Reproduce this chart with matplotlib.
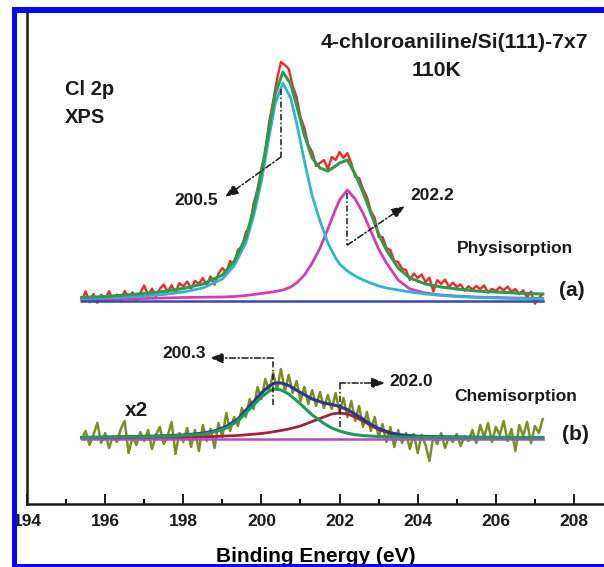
import numpy as np
import matplotlib
matplotlib.use("Agg")
import matplotlib.pyplot as plt
from matplotlib.patches import Rectangle
from matplotlib.ticker import MultipleLocator

plt.rcParams.update({
    "font.family": "Liberation Sans",
    "font.weight": "bold",
    "text.color": "#1a1a1a",
})

# ── (a) Physisorption: raw Cl 2p scan (intensity above baseline, a.u.) ──
scan_a = [
    -0.5, 9.7, -1.2, 7, -1.8, 6.3, 1.5, 9.8, 1.1, 6.4,
    -0.3, 10, 3.3, 8.6, -0.1, 8.2, 15.5, 5.9, 12.3, 4.7,
    12.1, 16.5, 9.1, 15.7, 8.3, 17.9, 14.5, 19.4, 12.3, 20.2,
    17.1, 23, 15.8, 24.6, 16.4, 27.2, 33, 28.5, 40, 36.5,
    51.5, 53.5, 68.5, 74.5, 97.5, 111.5, 132.5, 148.5, 179.5, 199.5,
    222, 239, 236, 232, 215, 204, 184, 173, 156, 149,
    135, 138, 141, 132, 144, 141, 149, 143, 148, 138,
    124, 123, 112, 104, 90, 83, 64, 64, 53, 51,
    40, 39, 32, 31, 21, 27.5, 23, 26.5, 19, 23.3,
    9.5, 20.8, 17, 21.5, 14, 18.5, 14, 16.6, 10.2, 14.8,
    11.4, 15, 11.8, 15.6, 8.4, 12.2, 10, 13.8, 10.6, 14.4,
    9.2, 12, 6.9, 10.7, 3.6, 9.4, -2.7, 3.1, 7,
]
scan_range = (195.4, 207.2)

# fitted components for (a)
fit_e_a = [195.4, 196.0, 196.5, 197.0, 197.5, 198.0, 198.5, 199.0, 199.3, 199.6,
           199.8, 200.0, 200.2, 200.35, 200.55, 200.75, 200.9, 201.1, 201.3, 201.5,
           201.7, 201.9, 202.0, 202.2, 202.4, 202.6, 202.8, 203.0, 203.2, 203.5,
           203.8, 204.2, 204.6, 205.0, 205.5, 206.0, 206.5, 207.2]
comp1_a = [2.5, 3, 4, 5, 6.5, 9, 13, 22, 35, 58,
           85, 120, 165, 197, 218, 203, 178, 140, 105, 80,
           58, 43, 37, 30, 25, 21, 18, 15, 13, 11,
           9, 7, 5.5, 4.5, 3.5, 3, 2.5, 2]
comp2_a = [1, 1.5, 2, 2.5, 3, 3.5, 3.8, 4, 4.5, 5.5,
           6.5, 7.5, 8.5, 9.5, 11, 14, 18, 26, 38, 53,
           72, 92, 101, 111, 102, 88, 70, 52, 38, 21,
           12, 8, 6, 5, 4, 3.5, 3, 2.5]
envelope_a = [3.5, 4.5, 6, 7.5, 9.5, 12.5, 17, 26, 39.5, 63.5,
              91.5, 127.5, 173.5, 206.5, 229, 217, 196, 166, 143, 133,
              130, 135, 138, 141, 127, 109, 88, 67, 51, 33,
              23, 17, 14, 12, 10, 9, 8, 7]
peaks_a = [200.5, 202.2]

# ── (b) Chemisorption (x2) ──
scan_b = [
    0, 8, -6, 4, 16, -4, 6, -9, 3, -3,
    10, 18, -14, 2, -6, 7, -2, 9, -10, 4,
    12, -5, 3, 17, -15, 6, -3, 11, -8, 9,
    -12, 14, -2, 10, -9, 16, 2, 26, 8, 22,
    13, 31, 22, 40, 30, 52, 40, 60, 48, 66,
    50, 70, 48, 64, 46, 58, 38, 52, 35, 49,
    33, 47, 31, 44, 30, 46, 27, 41, 22, 38,
    18, 33, 12, 27, 8, 22, 2, 15, -3, 12,
    -8, 9, -4, 6, -10, 5, -14, 4, -6, -22,
    3, -5, 6, -9, 2, -3, 5, -7, 3, -2,
    9, -4, 14, 2, 16, -3, 12, 4, 18, -2,
    10, -12, 14, 3, 17, -4, 13, 6, 20,
]
fit_e_b = [195.4, 196.0, 196.5, 197.0, 197.5, 198.0, 198.5, 198.8, 199.1, 199.4,
           199.7, 200.0, 200.2, 200.35, 200.5, 200.7, 201.0, 201.3, 201.6, 201.8,
           202.0, 202.2, 202.4, 202.6, 202.8, 203.0, 203.3, 203.6, 204.0, 204.5,
           205.0, 205.5, 206.0, 206.5, 207.2]
comp1_b = [1.5, 1.7, 2, 2.3, 2.8, 3.5, 5, 7, 11, 18,
           30, 42, 48, 50, 49, 45, 35, 24, 15.5, 11,
           8, 5.8, 4.3, 3.4, 2.9, 2.5, 2.2, 2, 1.8, 1.7,
           1.6, 1.5, 1.5, 1.5, 1.5]
comp2_b = [1.5, 1.6, 1.7, 1.8, 1.9, 2, 2.3, 2.5, 3, 3.5,
           4.5, 5.5, 6.5, 7.5, 8.5, 10, 13, 17.5, 22, 25,
           26, 25, 22, 18, 13.5, 9.5, 5.5, 3.5, 2.5, 2,
           1.8, 1.7, 1.6, 1.5, 1.5]
envelope_b = [1.5, 1.8, 2.2, 2.6, 3.2, 4, 5.8, 8, 12.5, 20,
              33, 46, 53, 56, 56, 53.5, 46.5, 40, 36, 34.5,
              32.5, 29.3, 24.8, 19.9, 14.9, 10.5, 6.2, 4, 2.8, 2.2,
              1.9, 1.7, 1.6, 1.5, 1.5]
peaks_b = [200.3, 202.0]

xticks = [194, 196, 198, 200, 202, 204, 206, 208]

# stacking offsets (layout)
OFF_A = 203
OFF_B = 65

W, H = 604, 567
fig = plt.figure(figsize=(W / 100, H / 100), dpi=100, facecolor="white")
ax = fig.add_axes([27 / W, 63 / H, 577 / W, 491 / H])
ax.set_facecolor("white")

e_a = np.linspace(scan_range[0], scan_range[1], len(scan_a))
e_b = np.linspace(scan_range[0], scan_range[1], len(scan_b))

def shift(v, off):
    return np.asarray(v, dtype=float) + off

# ── spectrum (a) ──
ax.plot(e_a, shift(scan_a, OFF_A), color="#f02828", lw=1.7, zorder=2)
ax.plot(fit_e_a, shift(comp2_a, OFF_A), color="#d43cb4", lw=2, zorder=3)
ax.plot(fit_e_a, shift(comp1_a, OFF_A), color="#2fb6cf", lw=2, zorder=4)
ax.plot(fit_e_a, shift(envelope_a, OFF_A), color="#2e9a4c", lw=2.2, zorder=5)
ax.plot(scan_range, [OFF_A, OFF_A], color="#3c46b0", lw=1.8, zorder=6)

# ── spectrum (b) ──
ax.plot(e_b, shift(scan_b, OFF_B), color="#7f8c26", lw=1.8, zorder=2)
ax.plot(scan_range, [OFF_B, OFF_B], color="#b848c8", lw=1.8, zorder=3)
ax.plot(fit_e_b, shift(comp2_b, OFF_B), color="#a8203a", lw=2, zorder=4)
ax.plot(fit_e_b, shift(envelope_b, OFF_B), color="#2c3a8c", lw=2.2, zorder=5)
ax.plot(fit_e_b, shift(comp1_b, OFF_B), color="#1e9a5e", lw=2.2, zorder=6)

# ── peak annotations ──
DASH = (0, (4, 1.6, 1, 1.6))
ann_kw = dict(color="#1a1a1a", lw=1.1, zorder=8)
arrow = dict(arrowstyle="-|>,head_length=0.8,head_width=0.32",
             color="#1a1a1a", lw=1.1, linestyle=DASH,
             shrinkA=0, shrinkB=0)

def marker(x, y0, y1, end, label, text_xy, ha):
    ax.plot([x, x], [y0, y1], linestyle=DASH, **ann_kw)
    ax.annotate("", xy=end, xytext=(x, y1), arrowprops=arrow, zorder=8)
    ax.text(*text_xy, label, ha=ha, va="center", fontsize=12.5,
            fontweight="bold", zorder=9)

marker(peaks_a[0], OFF_A + 212, OFF_A + 144, (199.07, OFF_A + 104),
       f"{peaks_a[0]:.1f}", (198.34, OFF_A + 101), "center")
marker(peaks_a[1], OFF_A + 108, OFF_A + 56, (203.67, OFF_A + 95),
       f"{peaks_a[1]:.1f}", (204.37, OFF_A + 106), "center")
marker(peaks_b[0], OFF_B + 34, OFF_B + 81, (198.68, OFF_B + 81),
       f"{peaks_b[0]:.1f}", (198.58, OFF_B + 86), "right")
marker(peaks_b[1], OFF_B + 12, OFF_B + 56, (203.16, OFF_B + 56),
       f"{peaks_b[1]:.1f}", (203.27, OFF_B + 57), "left")

# ── labels ──
ax.text(204.95, 461, "4-chloroaniline/Si(111)-7x7", ha="center", va="center",
        fontsize=15.3, fontweight="bold")
ax.text(204.49, 434, "110K", ha="center", va="center", fontsize=15.3,
        fontweight="bold")
ax.text(194.97, 415, "Cl 2p", ha="left", va="center", fontsize=14.5,
        fontweight="bold")
ax.text(194.97, 387, "XPS", ha="left", va="center", fontsize=14.5,
        fontweight="bold")
ax.text(206.49, 256, "Physisorption", ha="center", va="center",
        fontsize=12.5, fontweight="bold")
ax.text(207.95, 214, "(a)", ha="center", va="center", fontsize=15,
        fontweight="bold")
ax.text(206.52, 107, "Chemisorption", ha="center", va="center",
        fontsize=12.5, fontweight="bold")
ax.text(208.05, 69, "(b)", ha="center", va="center", fontsize=15,
        fontweight="bold")
ax.text(196.79, 94, "x2", ha="center", va="center", fontsize=15,
        fontweight="bold")

# ── axes ──
ax.set_xlim(194, 194 + 577 / 39.07)
ax.set_ylim(0, 491)
ax.set_xticks(xticks)
ax.set_xticklabels([str(t) for t in xticks])
ax.xaxis.set_minor_locator(MultipleLocator(1))
ax.set_yticks([])
ax.tick_params(axis="x", which="major", direction="in", length=7.5,
               width=1.4, labelsize=12.5, pad=7, colors="#1a1a1a")
ax.tick_params(axis="x", which="minor", direction="in", length=3.5,
               width=1.4)
for lab in ax.get_xticklabels():
    lab.set_fontweight("bold")
for side in ["top", "right"]:
    ax.spines[side].set_visible(False)
for side in ["left", "bottom"]:
    ax.spines[side].set_linewidth(1.8)
    ax.spines[side].set_color("#1a1a1a")
ax.set_xlabel("Binding Energy (eV)", fontsize=15, fontweight="bold",
              labelpad=13)

# ── blue frame ──
BLUE = "#0606f2"
for x0, y0, w, h in [(12, 7, 5, 560), (12, 7, 600, 6), (12, 564, 600, 6)]:
    fig.add_artist(Rectangle((x0 / W, 1 - (y0 + h) / H), w / W, h / H,
                             transform=fig.transFigure, color=BLUE,
                             zorder=20, lw=0))

fig.savefig("out.png", dpi=100, facecolor="white")
